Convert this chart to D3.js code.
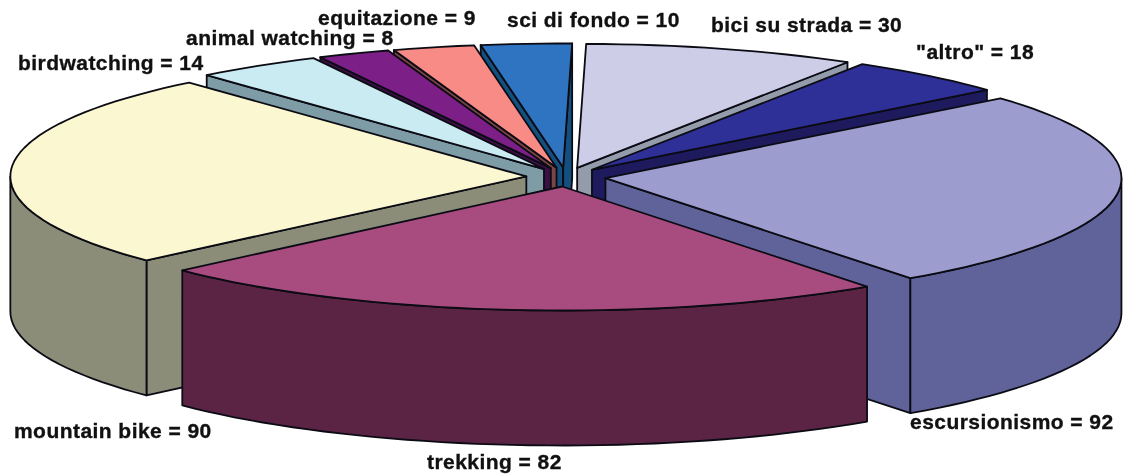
<!DOCTYPE html>
<html>
<head>
<meta charset="utf-8">
<script src="https://d3js.org/d3.v7.min.js"></script>
<style>
  html, body { margin: 0; background: #fff; }
  svg { display: block; filter: blur(0.6px); }
  text { font-family: "Liberation Sans", Arial, sans-serif; font-weight: bold; font-size: 21px; letter-spacing: 0.45px; fill: #111; stroke: #111; stroke-width: 0.35px; }
</style>
</head>
<body>
<div id="chart"></div>
<script>
const categories = ["bici su strada", '"altro"', "escursionismo", "trekking", "mountain bike", "birdwatching", "animal watching", "equitazione", "sci di fondo"];
const values = [30, 18, 92, 82, 90, 14, 8, 9, 10];
const topColors = ["#cdcde8", "#2f2f98", "#9c9ccf", "#a84c80", "#fbf7d0", "#cbebf3", "#7c2088", "#f98b86", "#2f74c0"];
const sideColors = ["#949bab", "#1d1b5e", "#5f6399", "#5c2444", "#8b8d79", "#7e9ca6", "#3a0f44", "#7c4545", "#14507f"];

// label anchors, left x and baseline, same order as categories
const labelX = [711, 916, 910, 427, 14, 18, 186, 318, 507];
const labelY = [32, 59, 429, 469, 438, 70, 45, 25, 27];

const width = 1123;
const height = 474;
const cx = 566;
const cy = 177;
const rx = 516;
const ry = 124;
const depth = 135;
const explode = 0.077;
const rad = (deg) => (deg * Math.PI) / 180;

const svg = d3.select("#chart").append("svg").attr("width", width).attr("height", height);

// unit circle -> tilted ellipse on the page
const x = d3.scaleLinear().domain([-1, 1]).range([cx - rx, cx + rx]);
const y = d3.scaleLinear().domain([-1, 1]).range([cy - ry, cy + ry]);

const slices = d3.pie().sort(null).value((d) => d).startAngle(rad(1)).endAngle(rad(361))(values);

const line = d3.line();

function point(s, r, angle, drop) {
  const mid = (s.startAngle + s.endAngle) / 2;
  return [
    x(explode * Math.sin(mid) + r * Math.sin(angle)),
    y(-explode * Math.cos(mid) - r * Math.cos(angle)) + drop,
  ];
}

function rim(s, a0, a1, drop) {
  const n = Math.max(2, Math.ceil((a1 - a0) / rad(2)));
  return d3.range(n + 1).map((i) => point(s, 1, a0 + ((a1 - a0) * i) / n, drop));
}

// wall under one radial edge, from apex to rim
function radialWall(s, angle) {
  return [point(s, 0, angle, 0), point(s, 1, angle, 0), point(s, 1, angle, depth), point(s, 0, angle, depth)];
}

// back slices first, the front ones paint over their walls
const drawOrder = [8, 7, 6, 5, 0, 1, 4, 2, 3];

const g = svg.append("g").attr("stroke", "#0b0b14").attr("stroke-width", 1.8).attr("stroke-linejoin", "round");

drawOrder.forEach((i) => {
  const s = slices[i];
  const one = g.append("g");
  const side = sideColors[i];

  if (Math.sin(s.startAngle) < 0) {
    one.append("path").attr("d", line(radialWall(s, s.startAngle)) + "Z").attr("fill", side);
  }
  if (Math.sin(s.endAngle) > 0) {
    one.append("path").attr("d", line(radialWall(s, s.endAngle)) + "Z").attr("fill", side);
  }

  // outer wall only shows on the front half
  const a0 = Math.max(s.startAngle, rad(90));
  const a1 = Math.min(s.endAngle, rad(270));
  if (a1 > a0) {
    const wall = rim(s, a0, a1, 0).concat(rim(s, a0, a1, depth).reverse());
    one.append("path").attr("d", line(wall) + "Z").attr("fill", side);
  }

  const top = [point(s, 0, s.startAngle, 0)].concat(rim(s, s.startAngle, s.endAngle, 0));
  one.append("path").attr("d", line(top) + "Z").attr("fill", topColors[i]);
});

svg.append("g")
  .selectAll("text")
  .data(categories)
  .join("text")
  .attr("x", (d, i) => labelX[i])
  .attr("y", (d, i) => labelY[i])
  .text((d, i) => `${d} = ${values[i]}`);
</script>
</body>
</html>
